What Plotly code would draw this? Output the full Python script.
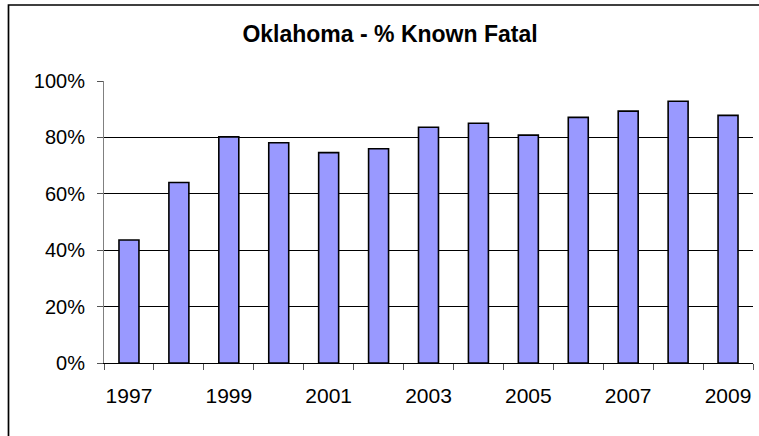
import plotly.graph_objects as go

years = [1997, 1998, 1999, 2000, 2001, 2002, 2003, 2004, 2005, 2006, 2007, 2008, 2009]
pct_known_fatal = [0.436, 0.640, 0.802, 0.781, 0.746, 0.760, 0.836, 0.850, 0.808, 0.871, 0.893, 0.928, 0.878]
x_tick_years = [1997, 1999, 2001, 2003, 2005, 2007, 2009]
x_tick_labels = [str(y) for y in x_tick_years]
y_tick_vals = [0, 0.2, 0.4, 0.6, 0.8, 1.0]
y_tick_labels = ["0%", "20%", "40%", "60%", "80%", "100%"]

W, H = 759, 436
L, R, T, B = 104, 6, 81, 73
pw, ph = W - L - R, H - T - B

def px_to_paper_x(px):
    return (px - L) / pw

def px_to_paper_y(py):
    return (H - B - py) / ph

fig = go.Figure(go.Bar(
    x=years, y=pct_known_fatal, width=0.4,
    marker=dict(color="#9999FF", line=dict(color="black", width=1.6)),
))

fig.update_layout(
    width=W, height=H,
    margin=dict(l=L, r=R, t=T, b=B, pad=0),
    paper_bgcolor="white", plot_bgcolor="white",
    font=dict(family="Liberation Sans, Arial, sans-serif", color="black", size=20),
    title=dict(text="<b>Oklahoma - % Known Fatal</b>", x=(390 / W), xanchor="center",
               y=1 - 34 / H, yanchor="middle",
               font=dict(size=23, family="Liberation Sans, Arial, sans-serif")),
    showlegend=False,
    bargap=0.6,
    shapes=[
        dict(type="rect", xref="paper", yref="paper", layer="above",
             x0=px_to_paper_x(8.5), x1=px_to_paper_x(W + 30),
             y0=px_to_paper_y(5), y1=px_to_paper_y(H + 30),
             fillcolor="rgba(0,0,0,0)",
             line=dict(color="black", width=1.7)),
    ],
)

fig.update_xaxes(
    range=[1996.5, 2009.5],
    tickmode="array", tickvals=x_tick_years, ticktext=x_tick_labels,
    ticks="", showgrid=False,
    showline=True, linecolor="black", linewidth=1,
    ticklabelstandoff=14,
    tickfont=dict(size=21),
    minor=dict(ticks="outside", tick0=1996.5, dtick=1, ticklen=6,
               tickcolor="#555555", tickwidth=1, showgrid=False),
    zeroline=False,
)

fig.update_yaxes(
    range=[0, 1],
    tickmode="array", tickvals=y_tick_vals, ticktext=y_tick_labels,
    ticks="outside", ticklen=6, tickcolor="#555555", tickwidth=1,
    showgrid=True, gridcolor="black", gridwidth=1,
    showline=True, linecolor="#808080", linewidth=1,
    ticklabelstandoff=8,
    tickfont=dict(size=20),
    zeroline=False,
)

fig.write_html(
    "out.html",
    config={"displayModeBar": False, "staticPlot": True},
    post_script="document.body.style.margin='0';document.body.style.overflow='hidden';",
)
